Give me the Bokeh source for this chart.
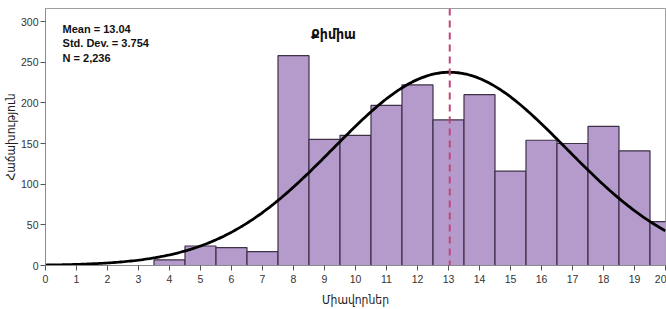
import numpy as np
from bokeh.plotting import figure
from bokeh.models import Span, Label, Range1d, FixedTicker
from bokeh.embed import file_html
from bokeh.resources import INLINE

# Histogram data (bin centers, counts)
bin_centers = [4, 5, 6, 7, 8, 9, 10, 11, 12, 13, 14, 15, 16, 17, 18, 19, 20]
counts = [7, 24, 22, 17, 258, 155, 160, 197, 222, 179, 210, 116, 154, 150, 171, 141, 54]

mean_val = 13.04
std_val = 3.754
n_val = 2236
x_ticks = list(range(0, 21))
y_ticks = [0, 50, 100, 150, 200, 250, 300]

title_text = "Քիմիա"
x_label = "Միավորներ"
y_label = "Հաճախություն"
stats_lines = ["Mean = 13.04", "Std. Dev. = 3.754", "N = 2,236"]

p = figure(width=666, height=309, output_backend="svg", toolbar_location=None,
           x_range=Range1d(0, 20), y_range=Range1d(0, 316),
           min_border_left=45, min_border_right=1, min_border_top=8, min_border_bottom=44)
p.background_fill_color = "white"
p.border_fill_color = "white"
p.outline_line_color = "#a0a0a0"
p.outline_line_width = 1
p.xgrid.visible = False
p.ygrid.visible = False

lefts = [c - 0.5 for c in bin_centers]
rights = [c + 0.5 for c in bin_centers]
p.quad(left=lefts, right=rights, bottom=0, top=counts,
       fill_color="#b59bcb", line_color="#3d3047", line_width=1.2)

xs = np.linspace(0, 20, 300)
ys = n_val * 1.0 / (std_val * np.sqrt(2 * np.pi)) * np.exp(-0.5 * ((xs - mean_val) / std_val) ** 2)
p.line(xs, ys, line_color="black", line_width=2.8)

p.add_layout(Span(location=mean_val, dimension="height", line_color="#c2457e",
                  line_width=2, line_dash="7 5"))

num_font = "Liberation Sans"
arm_font = "DejaVu Sans Condensed"

for ax in (p.xaxis, p.yaxis):
    ax.axis_line_color = "#8a8a8a"
    ax.major_tick_line_color = "#555555"
    ax.major_tick_in = 0
    ax.major_tick_out = 5
    ax.minor_tick_line_color = None
    ax.major_label_text_font = num_font
    ax.major_label_text_font_size = "10.5px"
    ax.major_label_text_color = "#333333"
    ax.axis_label_text_font = arm_font
    ax.axis_label_text_font_style = "normal"
    ax.axis_label_text_font_size = "12px"
    ax.axis_label_text_color = "#222222"

p.xaxis.ticker = FixedTicker(ticks=x_ticks)
p.yaxis.ticker = FixedTicker(ticks=y_ticks)
p.xaxis.axis_label = x_label
p.yaxis.axis_label = y_label
p.xaxis.major_label_standoff = 4
p.xaxis.axis_label_standoff = 7
p.yaxis.major_label_standoff = 2
p.yaxis.axis_label_standoff = 0

p.add_layout(Label(x=9.29, y=285, text=title_text, text_font=arm_font,
                   text_font_style="bold", text_font_size="14px",
                   text_align="center", text_baseline="middle", text_color="#111111"))

for i, line in enumerate(stats_lines):
    p.add_layout(Label(x=0.55, y=291 - i * 18, text=line, text_font=num_font,
                       text_font_style="bold", text_font_size="11px",
                       text_align="left", text_baseline="middle", text_color="#111111"))

open("out.html", "w").write(file_html(p, INLINE))
